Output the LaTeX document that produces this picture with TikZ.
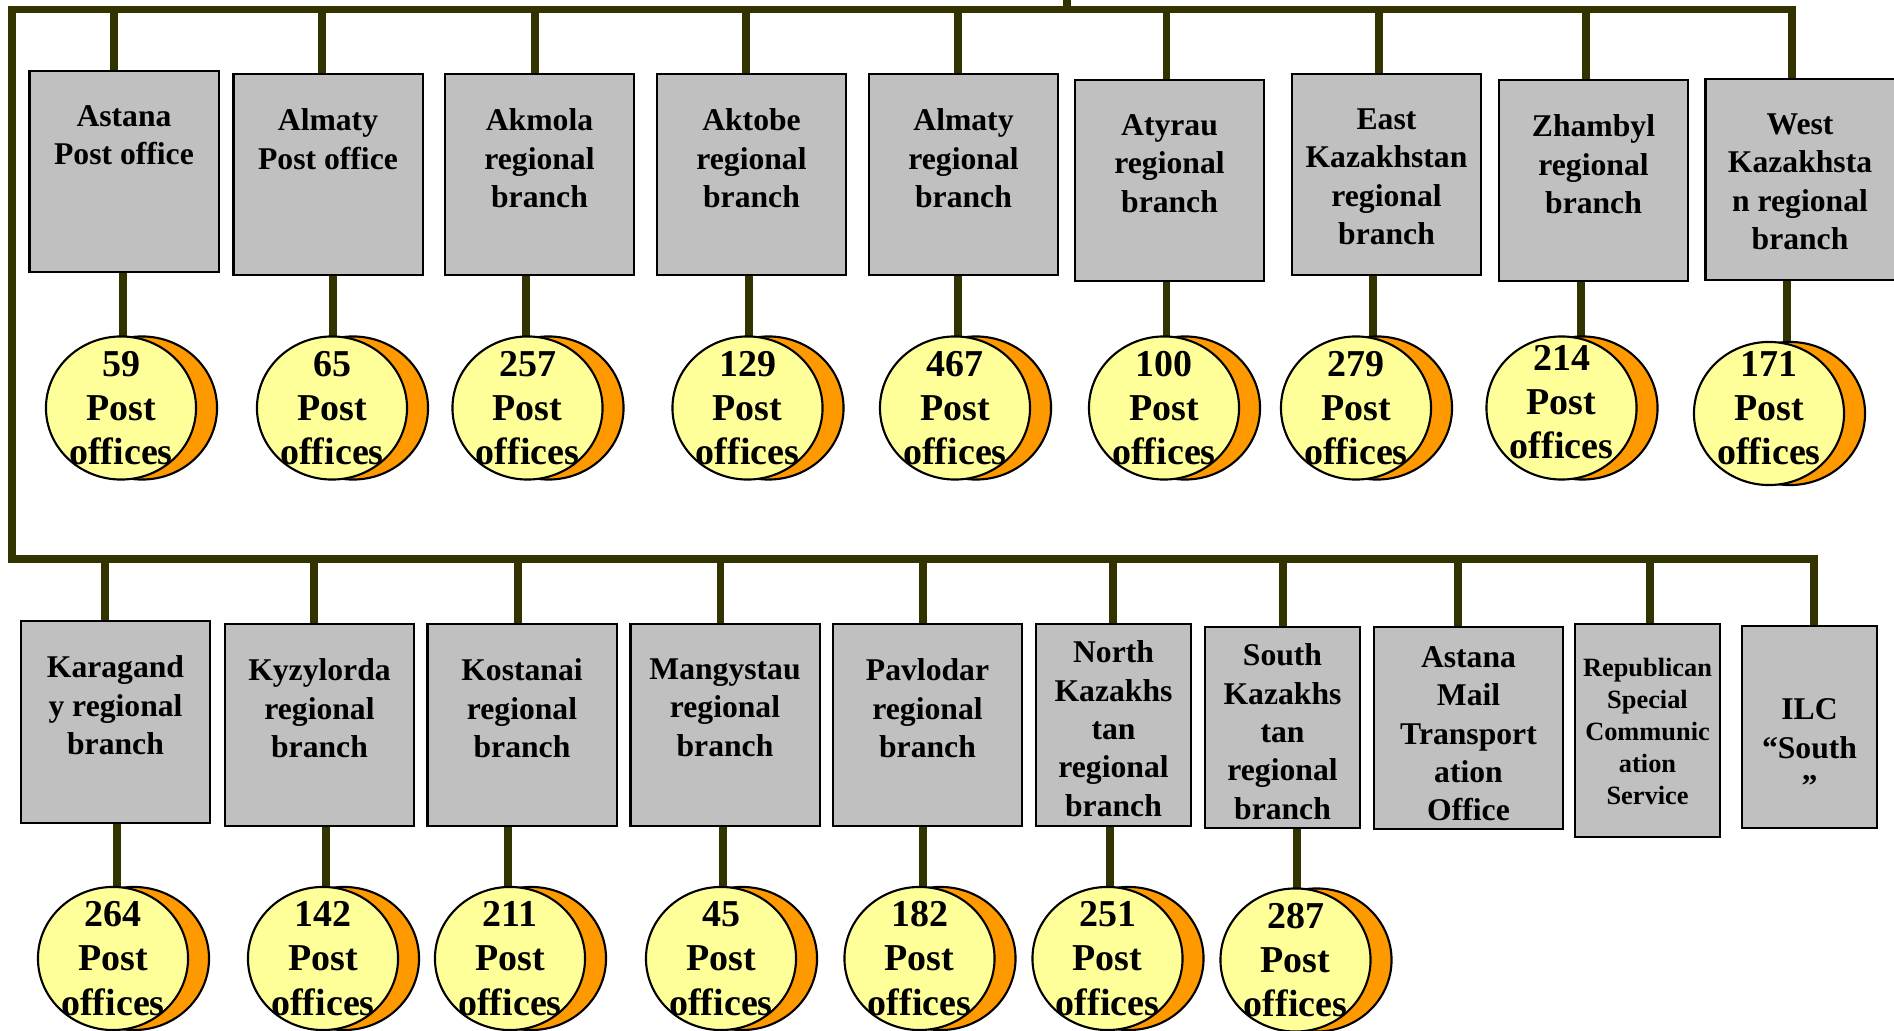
\documentclass[tikz,border=0pt]{standalone}
\usepackage{fontspec}
\setmainfont{Liberation Serif}
\usetikzlibrary{shapes.geometric,backgrounds}

\definecolor{busline}{HTML}{333300}
\definecolor{boxgray}{HTML}{C0C0C0}
\definecolor{coinyellow}{HTML}{FFFF99}
\definecolor{coinorange}{HTML}{FF9900}

\tikzset{
  bus/.style={draw=busline, line width=2.1pt, line cap=rect},
  unit/.style={draw=black, line width=0.6pt, fill=boxgray, anchor=north, inner sep=0pt},
  unittext/.style={anchor=north, align=center, inner sep=0pt, font=\fontsize{9}{10.9}\selectfont\bfseries},
  plaintext/.style={},
  smalltext/.style={font=\fontsize{7.5}{9.1}\selectfont\bfseries},
  coin/.style={ellipse, draw=black, line width=0.6pt, fill=coinyellow, minimum width=1.50cm, minimum height=1.43cm, inner sep=0pt},
  coinback/.style={coin, fill=coinorange},
  cointext/.style={align=center, inner sep=0pt, font=\fontsize{10.8}{12.6}\selectfont\bfseries}
}

\begin{document}
\begin{tikzpicture}[x=0.01cm, y=-0.01cm]
  \useasboundingbox (0,0) rectangle (1894,1031);

  % branches: name / x / top / width / height / stub x / text offset / style / text
  \foreach \n/\cx/\ty/\w/\h/\sx/\off/\sty/\txt in {
      astana/124/70/1.89cm/2.01cm/114/0.35cm/plaintext/{Astana\\Post office},
      almaty/328/73/1.89cm/2.01cm/322/0.35cm/plaintext/{Almaty\\Post office},
      akmola/539.5/73/1.89cm/2.01cm/535/0.35cm/plaintext/{Akmola\\regional\\branch},
      aktobe/751.5/73/1.89cm/2.01cm/746/0.35cm/plaintext/{Aktobe\\regional\\branch},
      almreg/963.5/73/1.89cm/2.01cm/958/0.35cm/plaintext/{Almaty\\regional\\branch},
      atyrau/1169.5/79/1.89cm/2.01cm/1166.5/0.35cm/plaintext/{Atyrau\\regional\\branch},
      eastkz/1386.5/73/1.89cm/2.01cm/1379/0.35cm/plaintext/{East\\Kazakhstan\\regional\\branch},
      zhambyl/1593.5/79/1.89cm/2.01cm/1586/0.35cm/plaintext/{Zhambyl\\regional\\branch},
      westkz/1800/78/1.89cm/2.01cm/1792/0.35cm/plaintext/{West\\Kazakhsta\\n regional\\branch},
      karaganda/115.5/620/1.89cm/2.02cm/105/0.35cm/plaintext/{Karagand\\y regional\\branch},
      kyzylorda/319.5/623/1.89cm/2.02cm/314/0.35cm/plaintext/{Kyzylorda\\regional\\branch},
      kostanai/522/623/1.89cm/2.02cm/518/0.35cm/plaintext/{Kostanai\\regional\\branch},
      mangystau/725/623/1.89cm/2.02cm/720.6/0.35cm/plaintext/{Mangystau\\regional\\branch},
      pavlodar/927.5/623/1.89cm/2.02cm/923/0.35cm/plaintext/{Pavlodar\\regional\\branch},
      northkz/1113.5/623/1.55cm/2.02cm/1113/0.17cm/plaintext/{North\\Kazakhs\\tan\\regional\\branch},
      southkz/1282.5/626/1.55cm/2.01cm/1283/0.17cm/plaintext/{South\\Kazakhs\\tan\\regional\\branch},
      mailoffice/1468.5/626/1.89cm/2.02cm/1458/0.20cm/plaintext/{Astana\\Mail\\Transport\\ation\\Office},
      rscs/1647.5/623/1.45cm/2.13cm/1650/0.34cm/smalltext/{Republican\\Special\\Communic\\ation\\Service},
      ilc/1809.5/625/1.35cm/2.02cm/1814/0.73cm/plaintext/{ILC\\“South\\”}}
  {
    \node[unit, minimum width=\w, minimum height=\h] (\n) at (\cx,\ty) {};
    \node[unittext, \sty] (\n txt) at ([yshift=-\off]\n.north) {\txt};
    \coordinate (\n s) at (\sx,0);
  }

  % post offices: name / count / x / y / text y / stub x
  \foreach \n/\num/\cx/\cy/\ny/\dx in {
      astana/59/121/408/408/123, almaty/65/332/408/408/333, akmola/257/527.5/408/408/526,
      aktobe/129/747.5/408/408/749, almreg/467/955/408/408/958, atyrau/100/1164/408/408/1166.5,
      eastkz/279/1356/408/408/1373, zhambyl/214/1561.5/408/402/1581, westkz/171/1769/413.5/408/1787,
      karaganda/264/113/958.5/958.5/117, kyzylorda/142/323/958.5/958.5/326, kostanai/211/510/958.5/958.5/508,
      mangystau/45/721/958.5/958.5/723, pavlodar/182/919.5/958.5/958.5/923, northkz/251/1107.5/958.5/958.5/1110,
      southkz/287/1295.5/960/960/1297}
  {
    \node[coinback] (\n back) at (\cx+21,\cy) {};
    \node[coin] (\n coin) at (\cx,\cy) {};
    \node[cointext] (\n num) at (\cx,\ny) {\num\\Post\\offices};
    \coordinate (\n d) at (\dx,0);
  }

  \coordinate (root) at (1067,0);
  \coordinate (topbus) at (1067,9.5);
  \coordinate (topleft) at (12,9.5);
  \coordinate (botleft) at (12,559);
  \coordinate (topright) at (1792,9.5);
  \coordinate (botright) at (1814,559);

  \begin{scope}[on background layer]
    \draw[bus] (root) -- (topbus);
    \draw[bus] (topright) -- (topleft) -- (botleft) -- (botright);
    \foreach \n in {astana,almaty,akmola,aktobe,almreg,atyrau,eastkz,zhambyl,westkz}
      \draw[bus] (\n s |- topbus) -- (\n s |- \n.center);
    \foreach \n in {karaganda,kyzylorda,kostanai,mangystau,pavlodar,northkz,southkz,mailoffice,rscs,ilc}
      \draw[bus] (\n s |- botleft) -- (\n s |- \n.center);
    \foreach \n in {astana,almaty,akmola,aktobe,almreg,atyrau,eastkz,zhambyl,westkz,
                    karaganda,kyzylorda,kostanai,mangystau,pavlodar,northkz,southkz}
      \draw[bus] (\n d |- \n.center) -- (\n d |- \n coin.center);
  \end{scope}
\end{tikzpicture}
\end{document}
